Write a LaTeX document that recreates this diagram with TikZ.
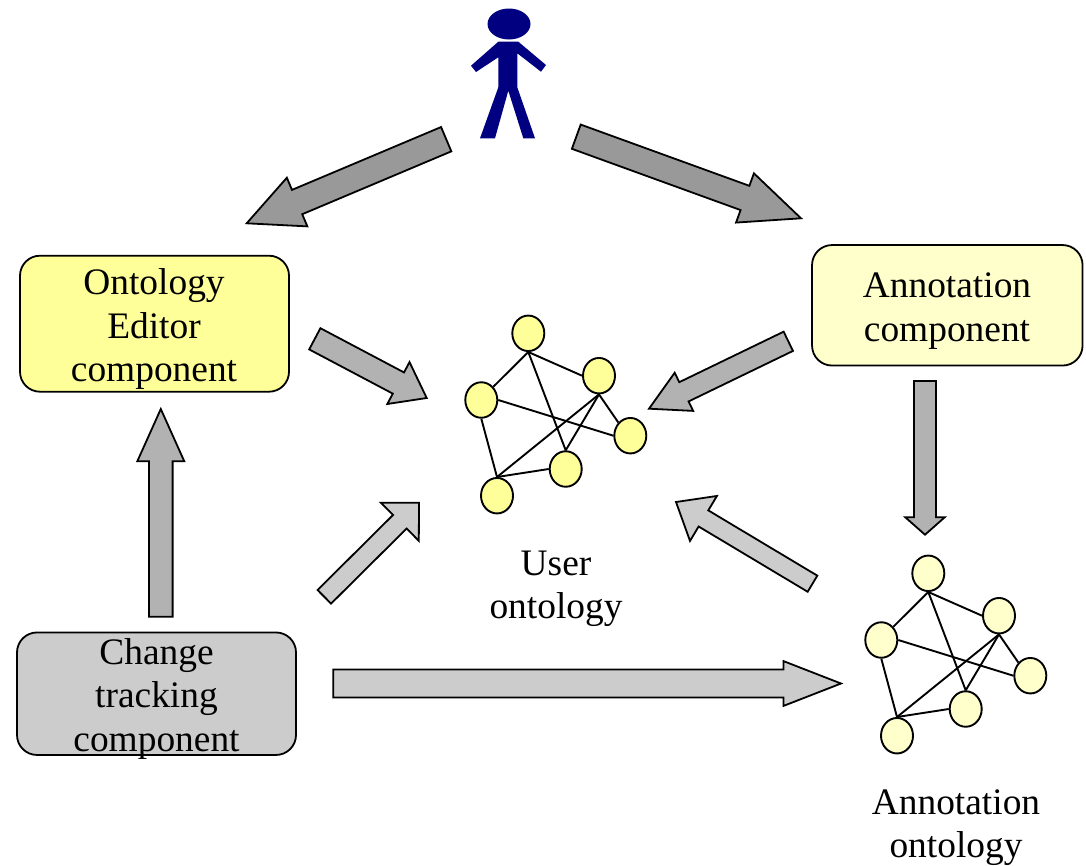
\documentclass[tikz,border=0pt]{standalone}
\usepackage{fontspec}
\setmainfont{Liberation Serif}
\usetikzlibrary{calc,shapes.geometric}
\definecolor{personblue}{HTML}{000080}
\definecolor{darkarrow}{HTML}{999999}
\definecolor{midarrow}{HTML}{B2B2B2}
\definecolor{lightarrow}{HTML}{CCCCCC}
\definecolor{yellowA}{HTML}{FFFF99}
\definecolor{yellowB}{HTML}{FFFFCC}
\tikzset{
  x=1pt,y=-1pt,
  box/.style={draw=black,line width=1.8pt,rounded corners=20pt,inner sep=0pt},
  txt/.style={font=\fontsize{37.4}{43.5}\selectfont,align=center,inner sep=0pt,text=black},
  arrowshape/.style={draw=black,line width=1.8pt,line join=miter,fill=#1},
  gnode/.style={ellipse,draw=black,line width=1.9pt,fill=#1,minimum width=32pt,minimum height=35.5pt,inner sep=0pt},
  gedge/.style={draw=black,line width=1.9pt}
}
\newcommand{\blockarrow}[6]{%
  \coordinate (notch) at ($(#3)!#6pt!(#2)$);
  \draw[arrowshape=#1] ($(#2)!#4pt!90:(#3)$) -- ($(notch)!#4pt!-90:(#2)$) -- ($(notch)!#5pt!-90:(#2)$) -- (#3)
    -- ($(notch)!#5pt!90:(#2)$) -- ($(notch)!#4pt!90:(#2)$) -- ($(#2)!#4pt!-90:(#3)$) -- cycle;}
\newcommand{\ontograph}[4]{%
  \begin{scope}[shift={(#2,#3)}]
  \node[gnode=#4] (#1a) at (528.3,333.3) {};
  \node[gnode=#4] (#1b) at (599,375.7) {};
  \node[gnode=#4] (#1c) at (630.3,435.7) {};
  \node[gnode=#4] (#1d) at (481.3,400) {};
  \node[gnode=#4] (#1e) at (565.7,469) {};
  \node[gnode=#4] (#1f) at (497,495.7) {};
  \draw[gedge] (#1a.south) -- (#1d.north east);
  \draw[gedge] (#1a.south) -- (#1b.west);
  \draw[gedge] (#1a.south) -- (#1e.north);
  \draw[gedge] (#1d.east) -- (#1c.west);
  \draw[gedge] (#1d.south) -- (#1f.north);
  \draw[gedge] (#1b.south) -- (#1c.north west);
  \draw[gedge] (#1b.south) -- (#1f.north);
  \draw[gedge] (#1b.south) -- (#1e.north);
  \draw[gedge] (#1f.north) -- (#1e.west);
  \end{scope}}
\begin{document}
\begin{tikzpicture}
\useasboundingbox (0,0) rectangle (1086,865);
% person
\node[ellipse,fill=personblue,minimum width=43pt,minimum height=31pt,inner sep=0pt] (head) at (509,24) {};
\fill[personblue] (498.3,41.7) -- (518.3,41.7) -- (546,65) -- (541,71.7) -- (517.3,53.3) -- (517.3,87.3)
  -- (535,138.3) -- (523.3,138.3) -- (508.3,90.7) -- (495,138.3) -- (480,138.3) -- (498.3,87.3)
  -- (498.3,57.3) -- (476,72) -- (471,65.7) -- cycle;
% boxes
\node[box,fill=yellowA,minimum width=269pt,minimum height=136pt] (editor) at (154.5,323.7) {};
\node[box,fill=yellowB,minimum width=270.5pt,minimum height=120.5pt] (annot) at (947.3,305.3) {};
\node[box,fill=lightarrow,minimum width=279pt,minimum height=122.5pt] (change) at (156.5,693.7) {};
\node[txt] (editortxt) at (154,329) {Ontology\\Editor\\component};
\node[txt] (annottxt) at (947,311) {Annotation\\component};
\node[txt] (changetxt) at (156.5,698.5) {Change\\tracking\\component};
\node[txt] (usertxt) at (556,589) {User\\ontology};
\node[txt] (annonttxt) at (956,827.5) {Annotation\\ontology};
% graphs
\ontograph{u}{0}{0}{yellowA}
\ontograph{v}{400}{240}{yellowB}
% arrows
\coordinate (t1) at (446.2,139.2); \coordinate (h1) at (246.7,223.3);
\coordinate (t2) at (576.3,136.7); \coordinate (h2) at (801,218.3);
\coordinate (t3) at (314.8,338.8); \coordinate (h3) at (426.7,398);
\coordinate (t4) at (324.3,596.8); \coordinate (h4) at (419,502.7);
\coordinate (t5) at (788.3,341.3); \coordinate (h5) at (649,408.7);
\coordinate (t6) at (812.5,583.7); \coordinate (h6) at (676,502);
\coordinate (t7) at (160.8,616.7); \coordinate (h7) at (160.8,409);
\coordinate (t8) at (925,381);     \coordinate (h8) at (925,534.7);
\coordinate (t9) at (333.3,683.5); \coordinate (h9) at (841,683.5);
\blockarrow{darkarrow}{t1}{h1}{13.2}{26.4}{54.7}
\blockarrow{darkarrow}{t2}{h2}{12.9}{26.2}{59.6}
\blockarrow{midarrow}{t3}{h3}{12}{23.7}{32}
\blockarrow{lightarrow}{t4}{h4}{9.6}{26.9}{27}
\blockarrow{midarrow}{t5}{h5}{10.7}{21.2}{38.8}
\blockarrow{lightarrow}{t6}{h6}{9.4}{26.2}{32}
\blockarrow{midarrow}{t7}{h7}{11.8}{23.5}{52.3}
\blockarrow{midarrow}{t8}{h8}{11}{19.7}{17.4}
\blockarrow{lightarrow}{t9}{h9}{14}{22.4}{57.5}
\end{tikzpicture}
\end{document}
